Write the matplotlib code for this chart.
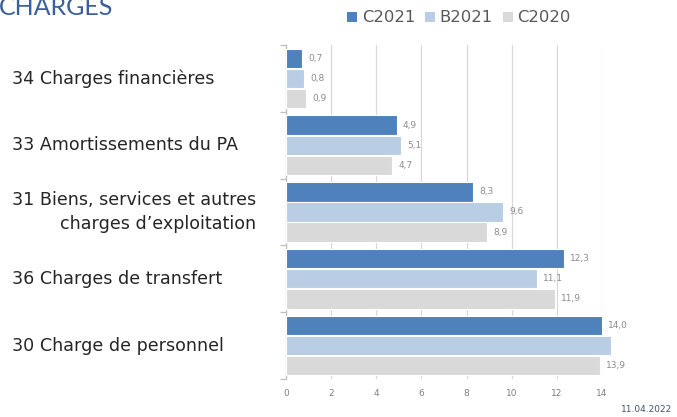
import matplotlib
matplotlib.use("Agg")
import matplotlib.pyplot as plt
import numpy as np
from matplotlib.patches import Patch

categories = [
    "34 Charges financières",
    "33 Amortissements du PA",
    "31 Biens, services et autres\ncharges d’exploitation",
    "36 Charges de transfert",
    "30 Charge de personnel",
]
series_names = ["C2021", "B2021", "C2020"]
c2021 = [0.7, 4.9, 8.3, 12.3, 14.0]
b2021 = [0.8, 5.1, 9.6, 11.1, 14.4]
c2020 = [0.9, 4.7, 8.9, 11.9, 13.9]
x_ticks = [0, 2, 4, 6, 8, 10, 12, 14]
title = "CHARGES"
date_text = "11.04.2022"

colors = ["#4f81bd", "#b9cde5", "#d9d9d9"]
FONT = "DejaVu Sans"

W, H = 677, 417
fig = plt.figure(figsize=(W / 100, H / 100), dpi=100)
ax = fig.add_axes([286 / W, 1 - 379 / H, (602 - 286) / W, (379 - 45) / H])

n = len(categories)
y = np.arange(n)
bh = 0.29
pitch = 0.30
all_series = [c2021, b2021, c2020]
for k, (vals, col) in enumerate(zip(all_series, colors)):
    pos = y + (k - 1) * pitch
    ax.barh(pos, vals, height=bh, color=col, edgecolor="white",
            linewidth=0.8, clip_on=False, zorder=3)
    for yy, v in zip(pos, vals):
        ax.annotate(f"{v:.1f}".replace(".", ","), xy=(v, yy), xytext=(4.5, 0),
                    textcoords="offset points", va="center", ha="left",
                    fontsize=6.5, color="#8c8c8c", family=FONT)

ax.set_xlim(0, 14)
ax.set_ylim(n - 0.5, -0.5)
ax.set_xticks(x_ticks)
ax.set_xticklabels([str(t) for t in x_ticks], fontsize=6.5, color="#808080", family=FONT)
ax.tick_params(axis="x", length=0, pad=7)
ax.grid(axis="x", color="#d9d9d9", linewidth=0.9, zorder=0)
ax.set_axisbelow(True)
ax.set_yticks(np.arange(n + 1) - 0.5, minor=True)
ax.set_yticks([])
ax.tick_params(axis="y", which="minor", length=4, color="#bfbfbf", width=0.9)
for s in ["top", "right", "bottom"]:
    ax.spines[s].set_visible(False)
ax.spines["left"].set_color("#bfbfbf")
ax.spines["left"].set_linewidth(0.9)

# category labels
for i, lab in enumerate(categories):
    yc_px = 45 + (i + 0.5) * (334 / n)
    fig.text(12 / W, 1 - yc_px / H, lab, ha="left", va="center",
             multialignment="right", fontsize=12.6, color="#262626",
             family=FONT, linespacing=1.45)

# legend
handles = [Patch(facecolor=c, edgecolor="none") for c in colors]
leg = fig.legend(handles, series_names, loc="center", bbox_to_anchor=(459 / W, 1 - 18 / H),
                 ncol=3, frameon=False, handlelength=0.6, handleheight=0.6,
                 handletextpad=0.3, columnspacing=0.6,
                 prop={"family": FONT, "size": 11.8})
for t in leg.get_texts():
    t.set_color("#595959")

fig.text(-1 / W, 1 - 15 / H, title, ha="left", va="baseline", fontsize=18,
         color="#3a5f9b", family="Lato")
fig.text(672 / W, 1 - 409 / H, date_text, ha="right", va="center", fontsize=6.5,
         color="#44546a", family=FONT)

fig.savefig("out.png", dpi=100)
